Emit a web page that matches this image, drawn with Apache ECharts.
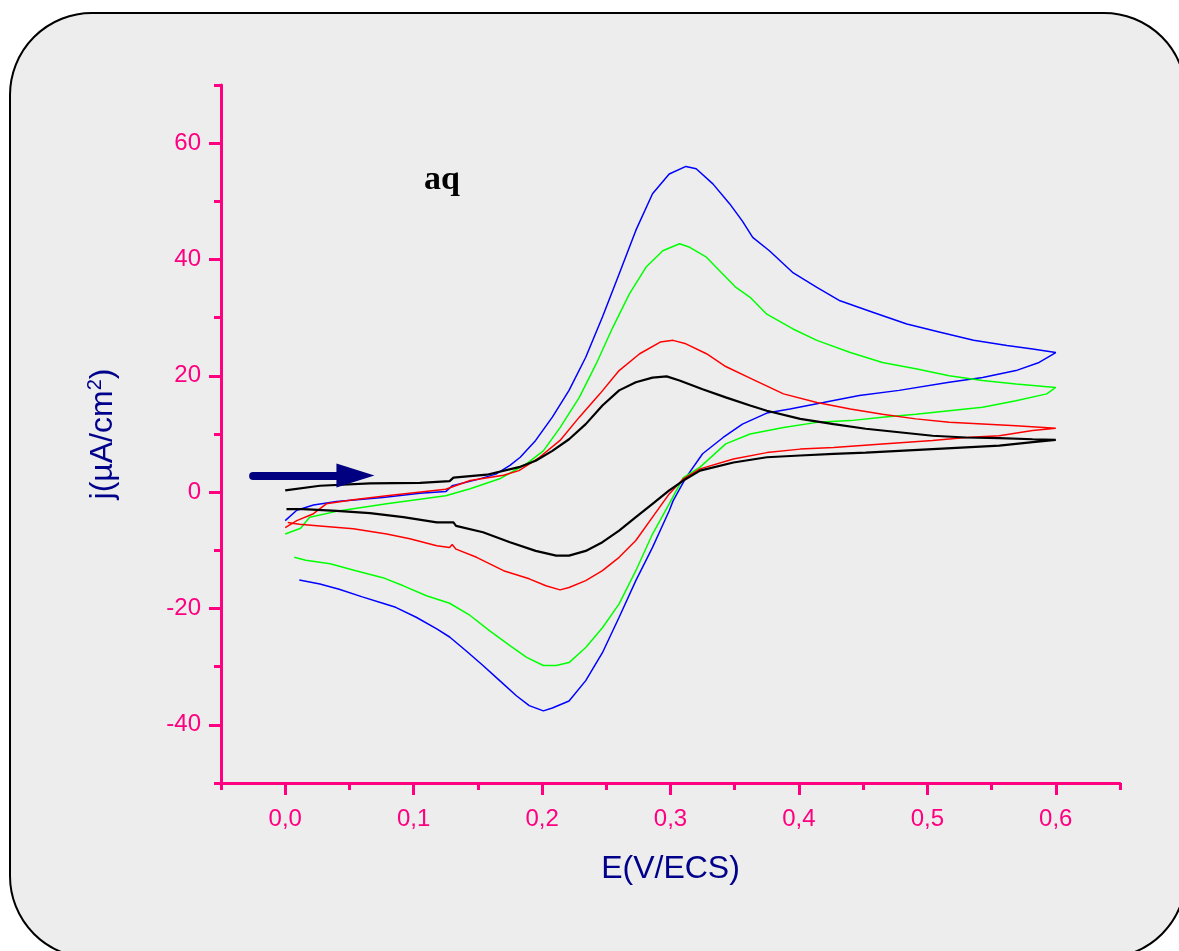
<!DOCTYPE html>
<html>
<head>
<meta charset="utf-8">
<script src="https://cdn.jsdelivr.net/npm/echarts@6/dist/echarts.min.js"></script>
<style>html,body{margin:0;padding:0;background:#fff}#c{width:1179px;height:951px}</style>
</head>
<body>
<div id="c"></div>
<script>
// Tick values
const xTicks = [0, 0.1, 0.2, 0.3, 0.4, 0.5, 0.6];
const xMinorTicks = [-0.05, 0.05, 0.15, 0.25, 0.35, 0.45, 0.55, 0.65];
const yTicks = [-40, -20, 0, 20, 40, 60];
const yMinorTicks = [-50, -30, -10, 10, 30, 50, 70];

// Cyclic voltammograms [E (V/ECS), j (µA/cm2)] : forward scan then reverse scan
const blueScan = [
[0.000,-4.9],[0.009,-3.1],[0.022,-2.2],[0.040,-1.6],[0.076,-0.9],[0.105,-0.2],[0.125,0.1],[0.130,1.1],[0.150,2.2],[0.164,3.1],[0.175,4.6],[0.183,6.0],[0.195,8.9],[0.208,12.9],[0.221,17.5],[0.234,23.2],[0.247,30.1],[0.260,37.5],[0.273,45.0],[0.286,51.3],[0.299,54.7],[0.312,56.0],[0.320,55.6],[0.333,53.0],[0.346,49.6],[0.356,46.6],[0.364,43.8],[0.377,41.5],[0.395,37.8],[0.414,35.2],[0.432,32.9],[0.458,30.9],[0.484,28.9],[0.510,27.5],[0.536,26.1],[0.562,25.2],[0.582,24.6],[0.600,24.0],
[0.587,22.3],[0.569,20.9],[0.543,19.7],[0.517,18.9],[0.478,17.5],[0.447,16.6],[0.419,15.4],[0.393,14.3],[0.375,13.6],[0.362,12.3],[0.356,11.7],[0.341,9.4],[0.325,6.6],[0.312,2.5],[0.302,-1.5],[0.299,-3.2],[0.286,-9.5],[0.273,-15.2],[0.260,-21.5],[0.247,-27.6],[0.234,-32.4],[0.221,-35.9],[0.208,-37.1],[0.201,-37.6],[0.190,-36.7],[0.180,-35.0],[0.167,-32.4],[0.154,-29.8],[0.141,-27.3],[0.128,-24.9],[0.118,-23.5],[0.102,-21.5],[0.086,-19.8],[0.076,-19.1],[0.060,-18.0],[0.042,-16.7],[0.027,-15.8],[0.011,-15.1]
];
const greenScan = [
[0.000,-7.2],[0.012,-6.2],[0.019,-4.3],[0.040,-3.3],[0.079,-2.0],[0.125,-0.6],[0.144,0.6],[0.167,2.3],[0.180,3.9],[0.188,4.9],[0.201,7.1],[0.214,11.1],[0.229,16.3],[0.242,22.0],[0.255,28.3],[0.268,34.1],[0.281,38.7],[0.294,41.5],[0.307,42.7],[0.315,42.1],[0.328,40.4],[0.338,38.1],[0.351,35.2],[0.362,33.5],[0.375,30.6],[0.395,28.1],[0.414,26.1],[0.440,24.0],[0.465,22.3],[0.491,21.2],[0.517,20.0],[0.543,19.2],[0.569,18.6],[0.600,18.0],
[0.593,16.9],[0.569,15.7],[0.543,14.6],[0.517,14.0],[0.491,13.4],[0.465,12.9],[0.440,12.3],[0.414,12.0],[0.388,11.1],[0.362,10.0],[0.343,8.3],[0.323,4.3],[0.310,2.5],[0.299,-2.0],[0.286,-7.2],[0.273,-13.5],[0.260,-19.2],[0.247,-23.3],[0.234,-26.7],[0.221,-29.3],[0.211,-29.8],[0.201,-29.8],[0.188,-28.4],[0.175,-26.4],[0.159,-23.8],[0.144,-21.2],[0.128,-19.1],[0.110,-17.8],[0.092,-16.1],[0.076,-14.7],[0.055,-13.5],[0.035,-12.3],[0.016,-11.7],[0.007,-11.2]
];
const redScan = [
[0.000,-6.1],[0.009,-4.9],[0.022,-3.7],[0.032,-2.0],[0.053,-1.3],[0.079,-0.6],[0.125,0.5],[0.144,2.0],[0.170,2.9],[0.182,3.7],[0.198,6.0],[0.214,8.9],[0.229,12.9],[0.245,16.9],[0.260,20.9],[0.276,23.8],[0.292,25.8],[0.302,26.1],[0.312,25.5],[0.328,23.8],[0.343,21.6],[0.364,19.4],[0.388,16.9],[0.414,15.4],[0.440,14.3],[0.465,13.4],[0.491,12.6],[0.517,12.0],[0.543,11.7],[0.569,11.4],[0.600,11.0],
[0.582,10.6],[0.556,9.7],[0.530,9.4],[0.504,8.9],[0.465,8.3],[0.427,7.7],[0.401,7.4],[0.375,6.8],[0.349,5.7],[0.323,4.0],[0.310,2.3],[0.299,-0.3],[0.286,-4.3],[0.273,-8.3],[0.260,-11.2],[0.247,-13.5],[0.234,-15.2],[0.221,-16.4],[0.214,-16.8],[0.203,-16.1],[0.190,-14.9],[0.170,-13.5],[0.149,-11.2],[0.133,-9.8],[0.130,-9.0],[0.128,-9.5],[0.118,-9.2],[0.097,-8.0],[0.079,-7.2],[0.053,-6.3],[0.027,-5.8],[0.011,-5.5],[0.002,-5.2]
];
const blackScan = [
[0.000,0.3],[0.027,1.1],[0.066,1.5],[0.105,1.6],[0.128,1.9],[0.131,2.5],[0.157,3.0],[0.182,4.3],[0.195,5.4],[0.208,7.1],[0.221,9.1],[0.234,11.7],[0.247,14.9],[0.260,17.5],[0.273,18.9],[0.286,19.7],[0.297,19.9],[0.307,19.2],[0.325,17.7],[0.343,16.3],[0.362,14.9],[0.375,14.0],[0.401,12.6],[0.427,11.7],[0.452,10.9],[0.478,10.3],[0.504,9.7],[0.530,9.4],[0.556,9.3],[0.582,9.1],[0.600,9.0],
[0.582,8.6],[0.556,8.0],[0.530,7.7],[0.504,7.4],[0.478,7.1],[0.452,6.8],[0.427,6.6],[0.401,6.3],[0.375,6.0],[0.349,5.1],[0.323,3.7],[0.310,2.0],[0.299,0.3],[0.286,-2.0],[0.273,-4.3],[0.260,-6.6],[0.247,-8.6],[0.234,-10.1],[0.221,-10.9],[0.211,-10.9],[0.195,-10.1],[0.175,-8.6],[0.154,-6.9],[0.133,-5.8],[0.131,-5.2],[0.118,-5.2],[0.092,-4.3],[0.066,-3.6],[0.040,-3.2],[0.014,-2.9],[0.001,-2.9]
];

// Scan direction arrow
const arrowStart = [-0.025, 2.85];
const arrowEnd = [0.0547, 2.85];

const AXIS_COLOR = '#ff0080';
const NAME_COLOR = '#00008b';
const FONT = 'Liberation Sans';
const gridBox = {left: 221, right: 59, top: 85, bottom: 168};

function fmtX(v) { return (Math.round(v * 10) / 10).toFixed(1).replace('.', ','); }

const chart = echarts.init(document.getElementById('c'), null, {renderer: 'canvas'});

function curve(data, color, width) {
  return {
    type: 'line', xAxisIndex: 0, yAxisIndex: 0,
    data: data, showSymbol: false, symbol: 'none', smooth: false,
    lineStyle: {color: color, width: width},
    emphasis: {disabled: true}, silent: true, z: 3
  };
}

const option = {
  backgroundColor: '#ffffff',
  animation: false,
  textStyle: {fontFamily: FONT},
  grid: [
    Object.assign({}, gridBox),
    Object.assign({}, gridBox)
  ],
  xAxis: [
    {
      gridIndex: 0, type: 'value', min: -0.05, max: 0.65, position: 'bottom',
      splitLine: {show: false},
      axisLine: {show: true, onZero: false, lineStyle: {color: AXIS_COLOR, width: 3}},
      axisTick: {show: true, inside: false, length: 12, customValues: xTicks, lineStyle: {color: AXIS_COLOR, width: 3}},
      axisLabel: {show: true, customValues: xTicks, margin: 24, color: AXIS_COLOR, fontSize: 24, fontFamily: FONT, formatter: fmtX},
      name: 'E(V/ECS)', nameLocation: 'middle', nameGap: 70,
      nameTextStyle: {color: NAME_COLOR, fontSize: 32, fontFamily: FONT}
    },
    {
      gridIndex: 1, type: 'value', min: -0.05, max: 0.65, position: 'bottom',
      splitLine: {show: false},
      axisLine: {show: false, onZero: false},
      axisTick: {show: true, inside: false, length: 7, customValues: xMinorTicks, lineStyle: {color: AXIS_COLOR, width: 3}},
      axisLabel: {show: false}
    }
  ],
  yAxis: [
    {
      gridIndex: 0, type: 'value', min: -50, max: 70, position: 'left',
      splitLine: {show: false},
      axisLine: {show: true, onZero: false, lineStyle: {color: AXIS_COLOR, width: 3}},
      axisTick: {show: true, inside: false, length: 12, customValues: yTicks, lineStyle: {color: AXIS_COLOR, width: 3}},
      axisLabel: {show: true, customValues: yTicks, margin: 20, color: AXIS_COLOR, fontSize: 24, fontFamily: FONT},
      name: '{a|j(µA/cm}{s|2}{a|)}', nameLocation: 'middle', nameGap: 100,
      nameTextStyle: {
        color: NAME_COLOR, fontSize: 32, fontFamily: FONT,
        rich: {
          a: {color: NAME_COLOR, fontSize: 32, fontFamily: FONT},
          s: {color: NAME_COLOR, fontSize: 20, fontFamily: FONT, padding: [0, 0, 16, 0]}
        }
      }
    },
    {
      gridIndex: 1, type: 'value', min: -50, max: 70, position: 'left',
      splitLine: {show: false},
      axisLine: {show: false, onZero: false},
      axisTick: {show: true, inside: false, length: 7, customValues: yMinorTicks, lineStyle: {color: AXIS_COLOR, width: 3}},
      axisLabel: {show: false}
    }
  ],
  graphic: {
    elements: [
      {
        type: 'rect', z: -10, silent: true,
        shape: {x: 10, y: 13, width: 1176, height: 945, r: 82},
        style: {fill: '#ededed', stroke: '#000000', lineWidth: 2}
      },
      {
        type: 'text', z: 10, silent: true, x: 442, y: 180,
        style: {text: 'aq', font: 'bold 34px "Liberation Serif"', fill: '#000000', align: 'center', verticalAlign: 'middle'}
      }
    ]
  },
  series: [
    curve(blueScan, '#0000ff', 1.5),
    curve(greenScan, '#00ff00', 1.5),
    curve(redScan, '#ff0000', 1.5),
    Object.assign(curve(blackScan, '#000000', 2.2), {
      markLine: {
        silent: true, animation: false,
        symbol: ['none', 'triangle'], symbolSize: [24, 38],
        label: {show: false},
        emphasis: {disabled: true},
        lineStyle: {color: '#000080', width: 8, type: 'solid', cap: 'round'},
        data: [[{coord: arrowStart}, {coord: arrowEnd}]]
      }
    })
  ]
};

chart.setOption(option);
</script>
</body>
</html>
